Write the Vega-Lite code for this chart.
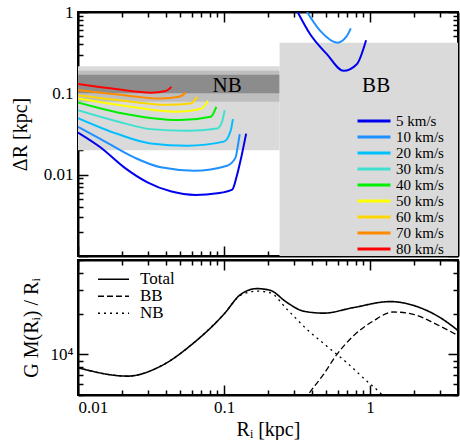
{
  "$schema": "https://vega.github.io/schema/vega-lite/v6.json",
  "padding": {"left": 9, "top": 2, "right": 3, "bottom": 0},
  "spacing": 0,
  "config": {
    "font": "Liberation Serif",
    "concat": {"spacing": 0},
    "view": {"stroke": "black", "strokeWidth": 2},
    "axis": {"grid": false, "domainColor": "black", "domainWidth": 2, "ticks": true, "tickColor": "black", "tickWidth": 1.5, "labelColor": "black", "labelFontSize": 17, "titleFontSize": 20, "titleFontWeight": "normal", "titleColor": "black", "zindex": 1},
    "legend": {"labelColor": "black", "padding": 0}
  },
  "datasets": {
    "bands": [
      {"band": "light", "x": 0.01, "x2": 0.24, "y": 0.02, "y2": 0.215},
      {"band": "medium", "x": 0.01, "x2": 0.24, "y": 0.079, "y2": 0.189},
      {"band": "dark", "x": 0.01, "x2": 0.24, "y": 0.1, "y2": 0.169},
      {"band": "light", "x": 0.24, "x2": 4, "y": 0.001, "y2": 0.42}
    ],
    "labels": [
      {"label": "NB", "x": 0.105, "y": 0.124},
      {"label": "BB", "x": 1.1, "y": 0.124}
    ],
    "curves": [
      {"v": "5 km/s", "grp": "NB", "x": 0.01, "y": 0.033},
      {"v": "5 km/s", "grp": "NB", "x": 0.0143, "y": 0.0216},
      {"v": "5 km/s", "grp": "NB", "x": 0.0207, "y": 0.0123},
      {"v": "5 km/s", "grp": "NB", "x": 0.0299, "y": 0.00805},
      {"v": "5 km/s", "grp": "NB", "x": 0.0431, "y": 0.00624},
      {"v": "5 km/s", "grp": "NB", "x": 0.0639, "y": 0.00563},
      {"v": "5 km/s", "grp": "NB", "x": 0.0899, "y": 0.0059},
      {"v": "5 km/s", "grp": "NB", "x": 0.1138, "y": 0.00655},
      {"v": "5 km/s", "grp": "NB", "x": 0.122, "y": 0.0095},
      {"v": "5 km/s", "grp": "NB", "x": 0.1297, "y": 0.0149},
      {"v": "5 km/s", "grp": "NB", "x": 0.1417, "y": 0.032},
      {"v": "10 km/s", "grp": "NB", "x": 0.01, "y": 0.0388},
      {"v": "10 km/s", "grp": "NB", "x": 0.0143, "y": 0.0274},
      {"v": "10 km/s", "grp": "NB", "x": 0.0242, "y": 0.0163},
      {"v": "10 km/s", "grp": "NB", "x": 0.0369, "y": 0.0123},
      {"v": "10 km/s", "grp": "NB", "x": 0.0622, "y": 0.0112},
      {"v": "10 km/s", "grp": "NB", "x": 0.105, "y": 0.0129},
      {"v": "10 km/s", "grp": "NB", "x": 0.12, "y": 0.0163},
      {"v": "10 km/s", "grp": "NB", "x": 0.124, "y": 0.022},
      {"v": "10 km/s", "grp": "NB", "x": 0.128, "y": 0.0316},
      {"v": "20 km/s", "grp": "NB", "x": 0.01, "y": 0.0496},
      {"v": "20 km/s", "grp": "NB", "x": 0.0187, "y": 0.0316},
      {"v": "20 km/s", "grp": "NB", "x": 0.0315, "y": 0.0242},
      {"v": "20 km/s", "grp": "NB", "x": 0.0561, "y": 0.0227},
      {"v": "20 km/s", "grp": "NB", "x": 0.0997, "y": 0.0255},
      {"v": "20 km/s", "grp": "NB", "x": 0.111, "y": 0.0347},
      {"v": "20 km/s", "grp": "NB", "x": 0.115, "y": 0.0482},
      {"v": "30 km/s", "grp": "NB", "x": 0.01, "y": 0.0621},
      {"v": "30 km/s", "grp": "NB", "x": 0.0187, "y": 0.0451},
      {"v": "30 km/s", "grp": "NB", "x": 0.0315, "y": 0.0363},
      {"v": "30 km/s", "grp": "NB", "x": 0.0561, "y": 0.0347},
      {"v": "30 km/s", "grp": "NB", "x": 0.0899, "y": 0.037},
      {"v": "30 km/s", "grp": "NB", "x": 0.097, "y": 0.045},
      {"v": "30 km/s", "grp": "NB", "x": 0.101, "y": 0.0622},
      {"v": "40 km/s", "grp": "NB", "x": 0.01, "y": 0.077},
      {"v": "40 km/s", "grp": "NB", "x": 0.0187, "y": 0.0582},
      {"v": "40 km/s", "grp": "NB", "x": 0.0505, "y": 0.0469},
      {"v": "40 km/s", "grp": "NB", "x": 0.081, "y": 0.0515},
      {"v": "40 km/s", "grp": "NB", "x": 0.0885, "y": 0.0683},
      {"v": "50 km/s", "grp": "NB", "x": 0.01, "y": 0.0863},
      {"v": "50 km/s", "grp": "NB", "x": 0.0187, "y": 0.0723},
      {"v": "50 km/s", "grp": "NB", "x": 0.0479, "y": 0.0593},
      {"v": "50 km/s", "grp": "NB", "x": 0.069, "y": 0.064},
      {"v": "50 km/s", "grp": "NB", "x": 0.0776, "y": 0.081},
      {"v": "60 km/s", "grp": "NB", "x": 0.01, "y": 0.095},
      {"v": "60 km/s", "grp": "NB", "x": 0.0187, "y": 0.0826},
      {"v": "60 km/s", "grp": "NB", "x": 0.0407, "y": 0.0723},
      {"v": "60 km/s", "grp": "NB", "x": 0.059, "y": 0.075},
      {"v": "60 km/s", "grp": "NB", "x": 0.0656, "y": 0.0906},
      {"v": "70 km/s", "grp": "NB", "x": 0.01, "y": 0.11},
      {"v": "70 km/s", "grp": "NB", "x": 0.0187, "y": 0.0967},
      {"v": "70 km/s", "grp": "NB", "x": 0.0369, "y": 0.0863},
      {"v": "70 km/s", "grp": "NB", "x": 0.0492, "y": 0.0906},
      {"v": "70 km/s", "grp": "NB", "x": 0.0546, "y": 0.102},
      {"v": "80 km/s", "grp": "NB", "x": 0.01, "y": 0.13},
      {"v": "80 km/s", "grp": "NB", "x": 0.0187, "y": 0.112},
      {"v": "80 km/s", "grp": "NB", "x": 0.0315, "y": 0.102},
      {"v": "80 km/s", "grp": "NB", "x": 0.0399, "y": 0.107},
      {"v": "80 km/s", "grp": "NB", "x": 0.0436, "y": 0.12},
      {"v": "5 km/s", "grp": "BB", "x": 0.319, "y": 1.0},
      {"v": "5 km/s", "grp": "BB", "x": 0.389, "y": 0.532},
      {"v": "5 km/s", "grp": "BB", "x": 0.506, "y": 0.303},
      {"v": "5 km/s", "grp": "BB", "x": 0.658, "y": 0.189},
      {"v": "5 km/s", "grp": "BB", "x": 0.811, "y": 0.228},
      {"v": "5 km/s", "grp": "BB", "x": 0.939, "y": 0.45},
      {"v": "10 km/s", "grp": "BB", "x": 0.37, "y": 1.0},
      {"v": "10 km/s", "grp": "BB", "x": 0.456, "y": 0.585},
      {"v": "10 km/s", "grp": "BB", "x": 0.598, "y": 0.42},
      {"v": "10 km/s", "grp": "BB", "x": 0.686, "y": 0.493},
      {"v": "10 km/s", "grp": "BB", "x": 0.738, "y": 0.63}
    ],
    "mass": [
      {"comp": "Total", "x": 0.01, "y": 7965},
      {"comp": "Total", "x": 0.0218, "y": 6900},
      {"comp": "Total", "x": 0.0369, "y": 8190},
      {"comp": "Total", "x": 0.0622, "y": 12200},
      {"comp": "Total", "x": 0.0997, "y": 19800},
      {"comp": "Total", "x": 0.13, "y": 27800},
      {"comp": "Total", "x": 0.168, "y": 30700},
      {"comp": "Total", "x": 0.207, "y": 29800},
      {"comp": "Total", "x": 0.27, "y": 24200},
      {"comp": "Total", "x": 0.35, "y": 20900},
      {"comp": "Total", "x": 0.48, "y": 20200},
      {"comp": "Total", "x": 0.769, "y": 22200},
      {"comp": "Total", "x": 1.37, "y": 24600},
      {"comp": "Total", "x": 2.19, "y": 22200},
      {"comp": "Total", "x": 3.17, "y": 18100},
      {"comp": "Total", "x": 4.0, "y": 15000},
      {"comp": "BB", "x": 0.33, "y": 4000},
      {"comp": "BB", "x": 0.379, "y": 5060},
      {"comp": "BB", "x": 0.48, "y": 7110},
      {"comp": "BB", "x": 0.593, "y": 10000},
      {"comp": "BB", "x": 0.769, "y": 13700},
      {"comp": "BB", "x": 1.054, "y": 17700},
      {"comp": "BB", "x": 1.44, "y": 20600},
      {"comp": "BB", "x": 1.98, "y": 19800},
      {"comp": "BB", "x": 2.85, "y": 16700},
      {"comp": "BB", "x": 4.0, "y": 13800},
      {"comp": "NB", "x": 0.01, "y": 7965},
      {"comp": "NB", "x": 0.0218, "y": 6900},
      {"comp": "NB", "x": 0.0369, "y": 8190},
      {"comp": "NB", "x": 0.0622, "y": 12200},
      {"comp": "NB", "x": 0.0997, "y": 19800},
      {"comp": "NB", "x": 0.13, "y": 27400},
      {"comp": "NB", "x": 0.168, "y": 29400},
      {"comp": "NB", "x": 0.207, "y": 28600},
      {"comp": "NB", "x": 0.27, "y": 21550},
      {"comp": "NB", "x": 0.37, "y": 15300},
      {"comp": "NB", "x": 0.506, "y": 11500},
      {"comp": "NB", "x": 0.693, "y": 8680},
      {"comp": "NB", "x": 0.949, "y": 6340},
      {"comp": "NB", "x": 1.17, "y": 5200},
      {"comp": "NB", "x": 1.3, "y": 4600}
    ]
  },
  "vconcat": [
    {
      "width": 380,
      "height": 244,
      "resolve": {"axis": {"x": "independent", "y": "independent"}},
      "layer": [
        {
          "data": {"name": "bands"},
          "mark": {"type": "rect", "clip": true},
          "encoding": {
            "x": {"field": "x", "type": "quantitative", "scale": {"type": "log", "domain": [0.01, 4], "nice": false},
              "axis": {"orient": "bottom", "title": null, "labels": false, "minExtent": 0, "maxExtent": 0,
                "values": [0.01,0.02,0.03,0.04,0.05,0.06,0.07,0.08,0.09,0.1,0.2,0.3,0.4,0.5,0.6,0.7,0.8,0.9,1,2,3],
                "tickSize": {"condition": {"test": "abs(log(datum.value)/LN10 - round(log(datum.value)/LN10)) < 0.001", "value": -10}, "value": -5}}},
            "x2": {"field": "x2"},
            "y": {"field": "y", "type": "quantitative", "scale": {"type": "log", "domain": [0.001, 1], "nice": false},
              "axis": {"orient": "left", "title": "ΔR [kpc]", "titlePadding": 13,
                "values": [0.001,0.002,0.003,0.004,0.005,0.006,0.007,0.008,0.009,0.01,0.02,0.03,0.04,0.05,0.06,0.07,0.08,0.09,0.1,0.2,0.3,0.4,0.5,0.6,0.7,0.8,0.9,1],
                "labelExpr": "abs(datum.value-1)<1e-9 ? '1' : (abs(datum.value-0.1)<1e-9 ? '0.1' : (abs(datum.value-0.01)<1e-9 ? '0.01' : ''))",
                "labelPadding": 15,
                "tickSize": {"condition": {"test": "abs(log(datum.value)/LN10 - round(log(datum.value)/LN10)) < 0.001", "value": -10}, "value": -5}}},
            "y2": {"field": "y2"},
            "fill": {"field": "band", "type": "nominal", "scale": {"domain": ["light", "medium", "dark"], "range": ["#dadada", "#bebebe", "#8c8c8c"]}, "legend": null}
          }
        },
        {
          "data": {"name": "curves"},
          "mark": {"type": "line", "clip": true, "strokeWidth": 2, "interpolate": "monotone"},
          "encoding": {
            "x": {"field": "x", "type": "quantitative", "scale": {"type": "log", "domain": [0.01, 4], "nice": false},
              "axis": {"orient": "top", "title": null, "labels": false, "minExtent": 0, "maxExtent": 0,
                "values": [0.01,0.02,0.03,0.04,0.05,0.06,0.07,0.08,0.09,0.1,0.2,0.3,0.4,0.5,0.6,0.7,0.8,0.9,1,2,3],
                "tickSize": {"condition": {"test": "abs(log(datum.value)/LN10 - round(log(datum.value)/LN10)) < 0.001", "value": -10}, "value": -5}}},
            "y": {"field": "y", "type": "quantitative", "scale": {"type": "log", "domain": [0.001, 1], "nice": false},
              "axis": {"orient": "right", "title": null, "labels": false, "minExtent": 0, "maxExtent": 0,
                "values": [0.001,0.002,0.003,0.004,0.005,0.006,0.007,0.008,0.009,0.01,0.02,0.03,0.04,0.05,0.06,0.07,0.08,0.09,0.1,0.2,0.3,0.4,0.5,0.6,0.7,0.8,0.9,1],
                "tickSize": {"condition": {"test": "abs(log(datum.value)/LN10 - round(log(datum.value)/LN10)) < 0.001", "value": -10}, "value": -5}}},
            "detail": {"field": "grp", "type": "nominal"},
            "color": {"field": "v", "type": "nominal",
              "scale": {"domain": ["5 km/s","10 km/s","20 km/s","30 km/s","40 km/s","50 km/s","60 km/s","70 km/s","80 km/s"],
                "range": ["#0000ee","#1e90ff","#00bfff","#40e0d0","#00ee00","#ffff00","#ffd700","#ff8c00","#ff0000"]},
              "legend": {"title": null, "orient": "none", "legendX": 288.5, "legendY": 101.5, "symbolType": "M-2.75,0H2.75", "symbolSize": 144, "symbolStrokeWidth": 3, "labelOffset": 14.5, "labelFontSize": 15, "rowPadding": -2.2}}
          }
        },
        {
          "data": {"name": "labels"},
          "mark": {"type": "text", "fontSize": 21, "color": "black"},
          "encoding": {
            "x": {"field": "x", "type": "quantitative", "scale": {"type": "log", "domain": [0.01, 4], "nice": false}, "axis": null},
            "y": {"field": "y", "type": "quantitative", "scale": {"type": "log", "domain": [0.001, 1], "nice": false}, "axis": null},
            "text": {"field": "label"}
          }
        }
      ]
    },
    {
      "width": 380,
      "height": 135,
      "data": {"name": "mass"},
      "resolve": {"axis": {"x": "independent", "y": "independent"}},
      "layer": [
        {
          "transform": [{"filter": "datum.comp === 'Total'"}],
          "mark": {"type": "line", "clip": true, "strokeWidth": 1.6, "color": "black", "interpolate": "monotone"},
          "encoding": {
            "x": {"field": "x", "type": "quantitative", "scale": {"type": "log", "domain": [0.01, 4], "nice": false},
              "axis": {"orient": "bottom", "title": "Rᵢ [kpc]", "titlePadding": 4,
                "values": [0.01,0.02,0.03,0.04,0.05,0.06,0.07,0.08,0.09,0.1,0.2,0.3,0.4,0.5,0.6,0.7,0.8,0.9,1,2,3],
                "labelExpr": "abs(datum.value-1)<1e-9 ? '1' : (abs(datum.value-0.1)<1e-9 ? '0.1' : (abs(datum.value-0.01)<1e-9 ? '0.01' : ''))",
                "labelPadding": 14,
                "tickSize": {"condition": {"test": "abs(log(datum.value)/LN10 - round(log(datum.value)/LN10)) < 0.001", "value": -10}, "value": -5}}},
            "y": {"field": "y", "type": "quantitative", "scale": {"type": "log", "domain": [5000, 50000], "nice": false},
              "axis": {"orient": "left", "title": "G M(Rᵢ) / Rᵢ", "titlePadding": 9,
                "values": [5000,6000,7000,8000,9000,10000,20000,30000,40000,50000],
                "labelExpr": "datum.value == 10000 ? '10⁴' : ''",
                "labelPadding": 15,
                "tickSize": {"condition": {"test": "datum.value == 10000", "value": -10}, "value": -5}}},
            "strokeDash": {"field": "comp", "type": "nominal",
              "scale": {"domain": ["Total", "BB", "NB"], "range": [[1, 0], [6, 3], [2, 4]]},
              "legend": {"title": null, "orient": "none", "legendX": 27, "legendY": 258.8, "labelFontSize": 17, "symbolType": "M-2.385,0H2.385", "symbolSize": 169, "symbolStrokeWidth": 1.6, "symbolStrokeColor": "black", "labelOffset": 18, "rowPadding": -1.8}}
          }
        },
        {
          "transform": [{"filter": "datum.comp !== 'Total'"}],
          "mark": {"type": "line", "clip": true, "strokeWidth": 1.3, "color": "black", "interpolate": "monotone"},
          "encoding": {
            "x": {"field": "x", "type": "quantitative", "scale": {"type": "log", "domain": [0.01, 4], "nice": false},
              "axis": {"orient": "top", "title": null, "labels": false, "minExtent": 0, "maxExtent": 0,
                "values": [0.01,0.02,0.03,0.04,0.05,0.06,0.07,0.08,0.09,0.1,0.2,0.3,0.4,0.5,0.6,0.7,0.8,0.9,1,2,3],
                "tickSize": {"condition": {"test": "abs(log(datum.value)/LN10 - round(log(datum.value)/LN10)) < 0.001", "value": -10}, "value": -5}}},
            "y": {"field": "y", "type": "quantitative", "scale": {"type": "log", "domain": [5000, 50000], "nice": false},
              "axis": {"orient": "right", "title": null, "labels": false, "minExtent": 0, "maxExtent": 0,
                "values": [5000,6000,7000,8000,9000,10000,20000,30000,40000,50000],
                "tickSize": {"condition": {"test": "datum.value == 10000", "value": -10}, "value": -5}}},
            "strokeDash": {"field": "comp", "type": "nominal",
              "scale": {"domain": ["Total", "BB", "NB"], "range": [[1, 0], [6, 3], [2, 4]]}}
          }
        }
      ]
    }
  ]
}
